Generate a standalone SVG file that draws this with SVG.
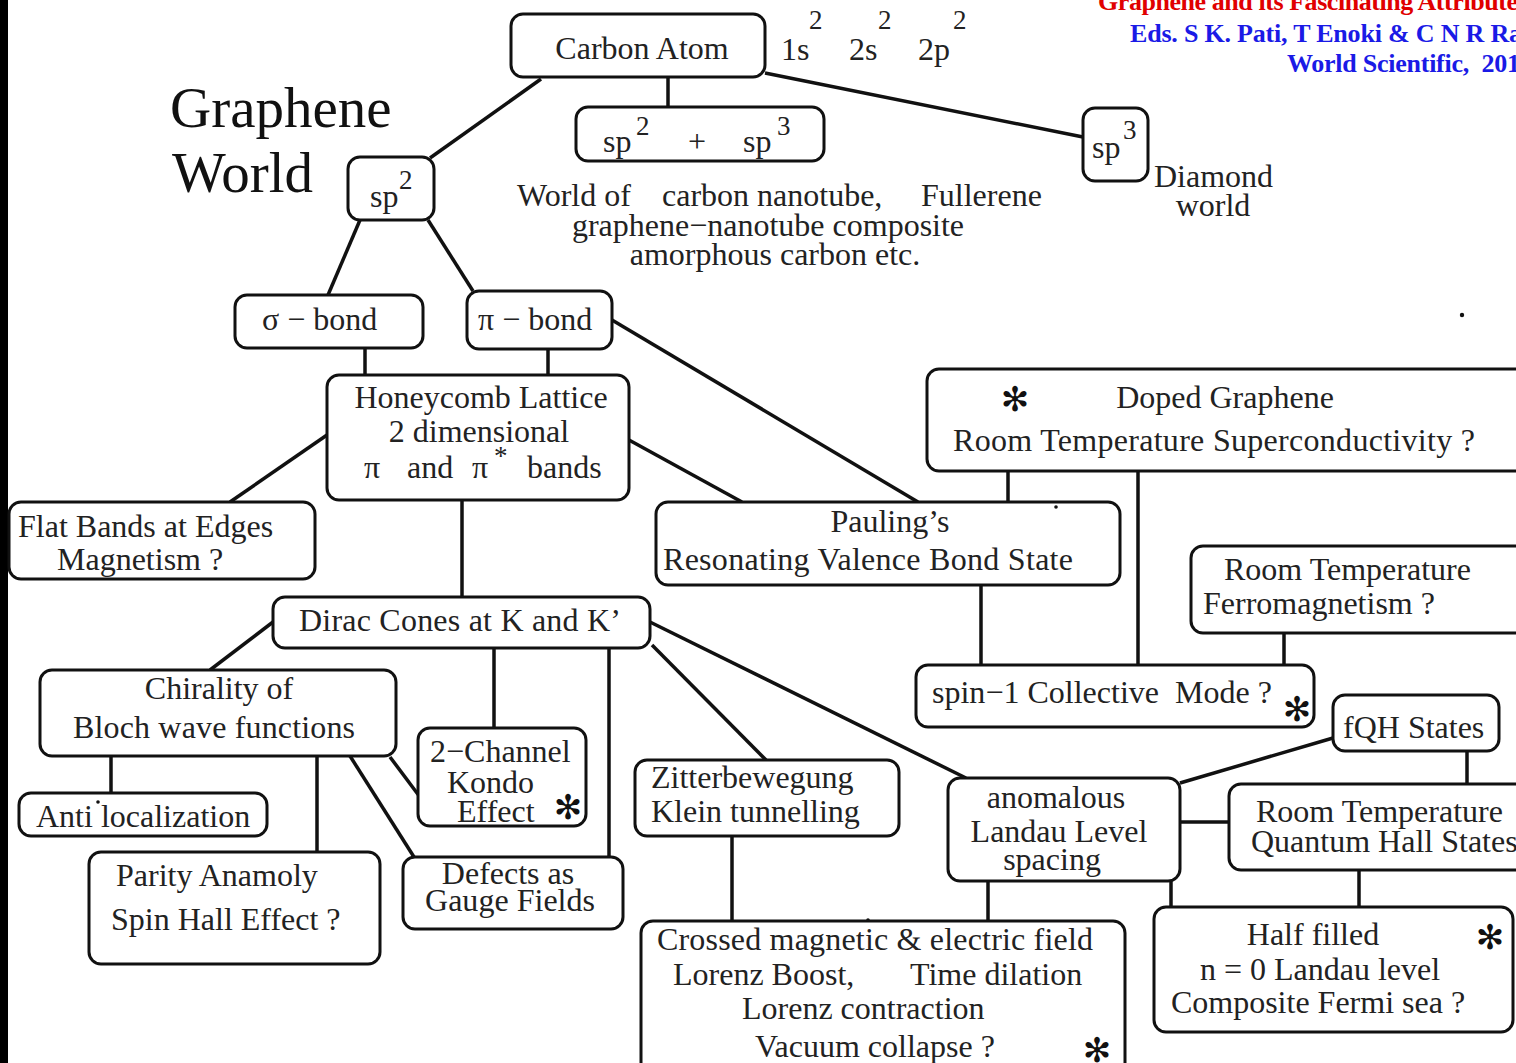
<svg xmlns="http://www.w3.org/2000/svg" width="1516" height="1063" viewBox="0 0 1516 1063">
<style>
.n rect{fill:#fff;stroke:#111;stroke-width:3}
text{font-family:"Liberation Serif","Times New Roman",serif;fill:#222;font-size:32px}
.sup{font-size:27px}
.ast{font-family:"DejaVu Sans",sans-serif;font-size:34px;fill:#111;text-anchor:middle}
.big{font-size:57px;fill:#111}
.red{fill:#e00000;font-weight:bold;font-size:26px}
.blue{fill:#1a1ae6;font-weight:bold;font-size:26px}
.c line{stroke:#111;stroke-width:3.5}
</style>
<rect x="0" y="0" width="1516" height="1063" fill="#fff"/>
<rect x="0" y="0" width="8" height="1063" fill="#000"/>
<g id="header">
<text class="red" x="1098" y="10" textLength="420">Graphene and its Fascinating Attribute</text>
<text class="blue" x="1130" y="42" textLength="392">Eds. S K. Pati, T Enoki &amp; C N R Ra</text>
<text class="blue" x="1287" y="72" textLength="233" xml:space="preserve">World Scientific,  201</text>
</g>
<g id="title">
<text class="big" x="170" y="127">Graphene</text>
<text class="big" x="172" y="192">World</text>
</g>
<g class="c" id="connectors">
<line x1="541" y1="79" x2="430" y2="158"/>
<line x1="668" y1="77" x2="668" y2="107"/>
<line x1="765" y1="73" x2="1083" y2="137"/>
<line x1="360" y1="220" x2="328" y2="295"/>
<line x1="428" y1="220" x2="473" y2="291"/>
<line x1="365" y1="348" x2="365" y2="375"/>
<line x1="548" y1="349" x2="548" y2="375"/>
<line x1="612" y1="320" x2="918" y2="502"/>
<line x1="327" y1="435" x2="230" y2="502"/>
<line x1="629" y1="440" x2="742" y2="502"/>
<line x1="462" y1="500" x2="462" y2="597"/>
<line x1="273" y1="622" x2="210" y2="670"/>
<line x1="494" y1="648" x2="494" y2="728"/>
<line x1="609" y1="648" x2="609" y2="857"/>
<line x1="652" y1="645" x2="766" y2="760"/>
<line x1="650" y1="622" x2="966" y2="778"/>
<line x1="111" y1="756" x2="111" y2="793"/>
<line x1="317" y1="756" x2="317" y2="852"/>
<line x1="350" y1="756" x2="414" y2="857"/>
<line x1="390" y1="757" x2="420" y2="797"/>
<line x1="732" y1="836" x2="732" y2="921"/>
<line x1="1008" y1="471" x2="1008" y2="502"/>
<line x1="1138" y1="471" x2="1138" y2="665"/>
<line x1="981" y1="585" x2="981" y2="665"/>
<line x1="1284" y1="633" x2="1284" y2="665"/>
<line x1="1180" y1="783" x2="1333" y2="738"/>
<line x1="1180" y1="822" x2="1229" y2="822"/>
<line x1="1467" y1="751" x2="1467" y2="784"/>
<line x1="988" y1="881" x2="988" y2="921"/>
<line x1="1171" y1="881" x2="1171" y2="907"/>
<line x1="1359" y1="870" x2="1359" y2="907"/>
</g>
<g id="carbon" class="n">
<rect x="511" y="14" width="254" height="63" rx="12"/>
<text x="642" y="59" text-anchor="middle">Carbon Atom</text>
</g>
<g id="config">
<text x="781" y="60">1s</text><text class="sup" x="809" y="29">2</text>
<text x="849" y="60">2s</text><text class="sup" x="878" y="29">2</text>
<text x="918" y="60">2p</text><text class="sup" x="953" y="29">2</text>
</g>
<g id="sp2sp3" class="n">
<rect x="576" y="107" width="248" height="54" rx="12"/>
<text x="603" y="152">sp</text><text class="sup" x="636" y="135">2</text>
<text x="688" y="152">+</text>
<text x="743" y="152">sp</text><text class="sup" x="777" y="135">3</text>
</g>
<g id="sp3" class="n">
<rect x="1083" y="108" width="65" height="73" rx="12"/>
<text x="1092" y="158">sp</text><text class="sup" x="1123" y="139">3</text>
</g>
<g id="diamond">
<text x="1154" y="187">Diamond</text>
<text x="1213" y="216" text-anchor="middle">world</text>
</g>
<g id="sp2" class="n">
<rect x="348" y="157" width="86" height="63" rx="12"/>
<text x="370" y="207">sp</text><text class="sup" x="399" y="189">2</text>
</g>
<g id="worldof">
<text x="517" y="206">World of</text>
<text x="662" y="206">carbon nanotube,</text>
<text x="921" y="206">Fullerene</text>
<text x="768" y="236" text-anchor="middle">graphene−nanotube composite</text>
<text x="775" y="265" text-anchor="middle">amorphous carbon etc.</text>
</g>
<g id="sigma" class="n">
<rect x="235" y="295" width="188" height="53" rx="12"/>
<text x="262" y="330">σ − bond</text>
</g>
<g id="pi" class="n">
<rect x="467" y="291" width="145" height="58" rx="12"/>
<text x="478" y="330">π − bond</text>
</g>
<g id="honeycomb" class="n">
<rect x="327" y="375" width="302" height="125" rx="12"/>
<text x="481" y="408" text-anchor="middle">Honeycomb Lattice</text>
<text x="479" y="442" text-anchor="middle">2 dimensional</text>
<text x="364" y="478">π</text><text x="407" y="478">and</text><text x="472" y="478">π</text><text class="sup" x="494" y="465" font-size="22">*</text><text x="527" y="478">bands</text>
</g>
<g id="doped" class="n">
<rect x="927" y="369" width="600" height="102" rx="12"/>
<text class="ast" x="1015" y="411">✻</text>
<text x="1225" y="408" text-anchor="middle">Doped Graphene</text>
<text x="953" y="451" textLength="522">Room Temperature Superconductivity ?</text>
</g>
<g id="flat" class="n">
<rect x="9" y="502" width="306" height="77" rx="12"/>
<text x="18" y="537">Flat Bands at Edges</text>
<text x="57" y="570">Magnetism ?</text>
</g>
<g id="pauling" class="n">
<rect x="656" y="502" width="464" height="83" rx="12"/>
<text x="890" y="532" text-anchor="middle">Pauling’s</text>
<text x="663" y="570" textLength="410">Resonating Valence Bond State</text>
</g>
<g id="ferro" class="n">
<rect x="1191" y="546" width="340" height="87" rx="12"/>
<text x="1224" y="580">Room Temperature</text>
<text x="1203" y="614">Ferromagnetism ?</text>
</g>
<g id="dirac" class="n">
<rect x="273" y="597" width="377" height="51" rx="12"/>
<text x="299" y="631" textLength="322">Dirac Cones at K and K’</text>
</g>
<g id="spin1" class="n">
<rect x="916" y="665" width="398" height="62" rx="12"/>
<text x="932" y="703" textLength="340" xml:space="preserve">spin−1 Collective  Mode ?</text>
<text class="ast" x="1297" y="721">✻</text>
</g>
<g id="fqh" class="n">
<rect x="1333" y="695" width="166" height="56" rx="12"/>
<text x="1343" y="738">fQH States</text>
</g>
<g id="chirality" class="n">
<rect x="40" y="670" width="356" height="86" rx="12"/>
<text x="219" y="699" text-anchor="middle">Chirality of</text>
<text x="73" y="738" textLength="282">Bloch wave functions</text>
</g>
<g id="kondo" class="n">
<rect x="418" y="728" width="168" height="98" rx="12"/>
<text x="430" y="762">2−Channel</text>
<text x="447" y="793">Kondo</text>
<text x="457" y="822">Effect</text>
<text class="ast" x="568" y="819">✻</text>
</g>
<g id="zitter" class="n">
<rect x="635" y="760" width="264" height="76" rx="12"/>
<text x="651" y="788">Zitterbewegung</text>
<text x="651" y="822">Klein tunnelling</text>
</g>
<g id="anomalous" class="n">
<rect x="948" y="778" width="232" height="103" rx="12"/>
<text x="1056" y="808" text-anchor="middle">anomalous</text>
<text x="1059" y="842" text-anchor="middle">Landau Level</text>
<text x="1052" y="870" text-anchor="middle">spacing</text>
</g>
<g id="rtqhs" class="n">
<rect x="1229" y="784" width="300" height="86" rx="12"/>
<text x="1256" y="822">Room Temperature</text>
<text x="1251" y="852">Quantum Hall States</text>
</g>
<g id="anti" class="n">
<rect x="19" y="793" width="248" height="43" rx="12"/>
<text x="36" y="827">Anti localization</text>
</g>
<g id="parity" class="n">
<rect x="89" y="852" width="291" height="112" rx="12"/>
<text x="116" y="886">Parity Anamoly</text>
<text x="111" y="930">Spin Hall Effect ?</text>
</g>
<g id="defects" class="n">
<rect x="403" y="857" width="220" height="72" rx="12"/>
<text x="508" y="884" text-anchor="middle" font-size="29">Defects as</text>
<text x="510" y="911" text-anchor="middle" font-size="29" textLength="170">Gauge Fields</text>
</g>
<g id="crossed" class="n">
<rect x="641" y="921" width="484" height="160" rx="12"/>
<text x="657" y="950" textLength="436">Crossed magnetic &amp; electric field</text>
<text x="673" y="985">Lorenz Boost,</text>
<text x="910" y="985">Time dilation</text>
<text x="742" y="1019">Lorenz contraction</text>
<text x="755" y="1057">Vacuum collapse ?</text>
<text class="ast" x="1097" y="1062">✻</text>
</g>
<g id="half" class="n">
<rect x="1154" y="907" width="359" height="125" rx="12"/>
<text x="1313" y="945" text-anchor="middle">Half filled</text>
<text x="1320" y="980" text-anchor="middle">n = 0 Landau level</text>
<text x="1318" y="1013" text-anchor="middle">Composite Fermi sea ?</text>
<text class="ast" x="1490" y="949">✻</text>
</g>
<g id="marks" fill="#111">
<circle cx="1462" cy="315" r="2.2"/>
<circle cx="1056" cy="507" r="1.8"/>
<circle cx="868" cy="920" r="1.8"/>
<circle cx="98" cy="802" r="1.8"/>
</g>
</svg>
